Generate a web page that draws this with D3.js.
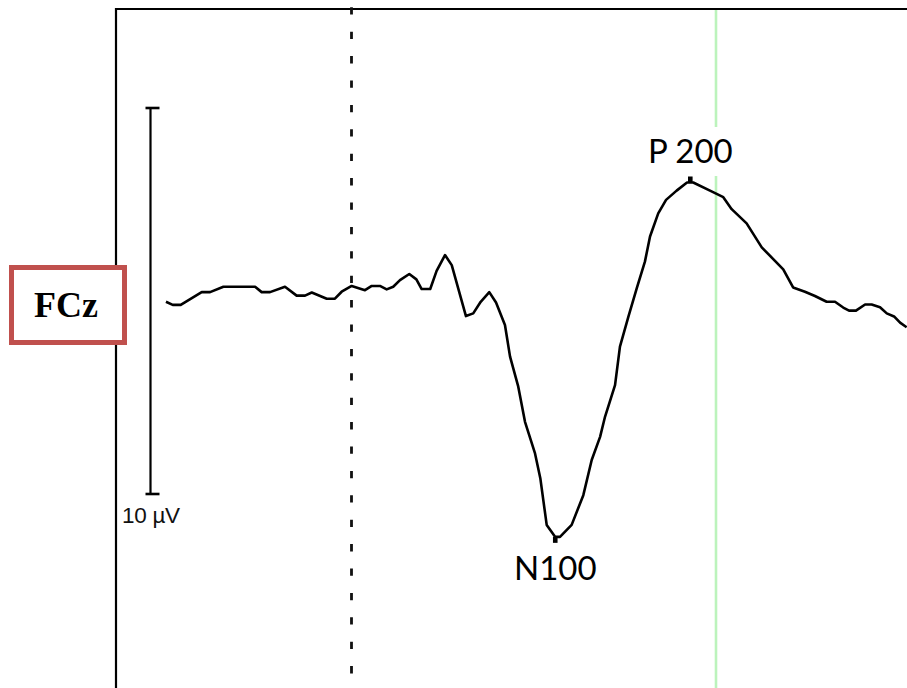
<!DOCTYPE html>
<html>
<head>
<meta charset="utf-8">
<script src="https://cdn.jsdelivr.net/npm/d3@7"></script>
<style>
  html, body { margin: 0; padding: 0; background: #fff; }
  svg { display: block; }
</style>
</head>
<body>
<div id="chart"></div>
<script>
// Grand-average ERP at electrode FCz (time in ms, amplitude in µV, positive up)
const timesMs = [-101.8, -98.1, -93.7, -82.2, -77.6, -70.3, -52.9, -49.3, -44.7, -36.5,
  -30.1, -25.5, -21.8, -13.6, -9.1, -5.4, 0.1, 7.4, 11.1, 15.6,
  19.3, 22.9, 26.6, 31.7, 35.6, 38.5, 43.2, 46.7, 51.3, 55.0,
  62.8, 66.8, 70.9, 75.6, 79.3, 84.2, 87.0, 91.5, 95.2, 100.7,
  103.6, 107.1, 111.7, 114.4, 120.8, 127.2, 131.8, 136.4, 139.1, 144.6,
  147.3, 151.9, 156.5, 161.0, 163.8, 168.3, 172.6, 178.4, 184.1, 187.5,
  196.7, 204.0, 208.6, 216.8, 225.1, 236.9, 242.3, 248.8, 254.3, 260.7,
  265.3, 269.8, 273.0, 276.8, 281.8, 285.4, 290.0, 293.7, 297.7, 301.0, 304.6];

const amplitudeUv = [-0.02, -0.10, -0.10, 0.23, 0.23, 0.37, 0.37, 0.23, 0.23, 0.37,
  0.14, 0.14, 0.22, 0.06, 0.06, 0.24, 0.39, 0.28, 0.39, 0.39,
  0.30, 0.37, 0.54, 0.70, 0.56, 0.31, 0.31, 0.78, 1.19, 0.93,
  -0.39, -0.32, -0.02, 0.23, -0.04, -0.62, -1.44, -2.22, -3.13, -3.95,
  -4.59, -5.80, -6.11, -6.11, -5.80, -5.03, -4.12, -3.52, -3.00, -2.18,
  -1.18, -0.41, 0.33, 1.02, 1.67, 2.27, 2.62, 2.86, 3.07, 3.07,
  2.86, 2.69, 2.38, 2.01, 1.39, 0.82, 0.35, 0.24, 0.13, -0.02,
  -0.02, -0.17, -0.25, -0.25, -0.09, -0.09, -0.16, -0.32, -0.40, -0.56, -0.68];

// Peak components: name, latency (ms), amplitude (µV)
const peakNames = ["N100", "P 200"];
const peakTimes = [111.8, 185.9];
const peakValues = [-6.11, 3.07];

// Reference markers: stimulus onset and 200 ms
const onsetMs = 0;
const refMs = 200;

// Amplitude calibration bar
const calibLow = -5, calibHigh = 5;
const calibLabel = "10 µV";
const channelName = "FCz";

const W = 907, H = 688;
const frame = { left: 116, top: 9 };

const x = d3.scaleLinear().domain([0, 200]).range([351.5, 716]);
const y = d3.scaleLinear().domain([-5, 5]).range([494, 108]);

const svg = d3.select("#chart").append("svg")
  .attr("width", W).attr("height", H)
  .style("background", "#fff");

svg.append("defs").append("clipPath").attr("id", "plotclip")
  .append("rect").attr("x", frame.left).attr("y", frame.top)
  .attr("width", W - frame.left).attr("height", H - frame.top);

// Frame (top and left edges)
svg.append("path")
  .attr("d", `M${frame.left},${H} V${frame.top} H${W + 2}`)
  .attr("fill", "none").attr("stroke", "#000").attr("stroke-width", 2.2);

// 200 ms reference line
svg.append("line")
  .attr("x1", x(refMs)).attr("x2", x(refMs))
  .attr("y1", frame.top + 1).attr("y2", H)
  .attr("stroke", "#bcf3bc").attr("stroke-width", 2.6);

// Stimulus onset, dashed
svg.append("line")
  .attr("x1", x(onsetMs)).attr("x2", x(onsetMs))
  .attr("y1", 7.3).attr("y2", H)
  .attr("stroke", "#111").attr("stroke-width", 2.8)
  .attr("stroke-dasharray", "7.3,17.1");

// Calibration bar
const calX = 150.5;
const cal = svg.append("g").attr("stroke", "#000").attr("stroke-width", 2.2);
cal.append("line").attr("x1", calX).attr("x2", calX)
  .attr("y1", y(calibHigh)).attr("y2", y(calibLow));
cal.append("line").attr("x1", calX - 5).attr("x2", calX + 9)
  .attr("y1", y(calibHigh)).attr("y2", y(calibHigh)).attr("stroke-width", 2.6);
cal.append("line").attr("x1", calX - 5).attr("x2", calX + 9)
  .attr("y1", y(calibLow)).attr("y2", y(calibLow)).attr("stroke-width", 2.6);
svg.append("text")
  .attr("x", 122).attr("y", y(calibLow) + 28.5)
  .attr("font-family", "'Liberation Sans', Arial, sans-serif")
  .attr("font-size", 22.5).attr("letter-spacing", -0.3)
  .attr("fill", "#111")
  .text(calibLabel);

// Waveform
const data = timesMs.map((t, i) => ({ t, v: amplitudeUv[i] }));
svg.append("path")
  .datum(data)
  .attr("clip-path", "url(#plotclip)")
  .attr("fill", "none")
  .attr("stroke", "#000")
  .attr("stroke-width", 2.6)
  .attr("stroke-linejoin", "round")
  .attr("d", d3.line().x(d => x(d.t)).y(d => y(d.v)));

// Peak markers and labels
peakNames.forEach((name, i) => {
  const px = x(peakTimes[i]);
  const py = y(peakValues[i]);
  const up = peakValues[i] > 0;
  svg.append("rect")
    .attr("x", px - 2.3).attr("width", 4.6)
    .attr("y", up ? py - 6 : py).attr("height", 6)
    .attr("fill", "#000");
  const capH = 24, gap = 19.5;
  const baseline = up ? py - gap : py + gap + capH;
  if (up) {
    svg.append("rect")
      .attr("x", px - 48).attr("width", 96)
      .attr("y", baseline - 36).attr("height", 49)
      .attr("fill", "#fff");
  }
  svg.append("text")
    .attr("x", px).attr("y", baseline)
    .attr("text-anchor", "middle")
    .attr("font-family", "Lato, 'Open Sans', sans-serif")
    .attr("font-size", 33)
    .attr("fill", "#000")
    .text(name);
});

// Channel label box
svg.append("rect")
  .attr("x", 11.5).attr("y", 267.5).attr("width", 113).attr("height", 75)
  .attr("fill", "#fff").attr("stroke", "#c0504d").attr("stroke-width", 5);
svg.append("text")
  .attr("x", 66).attr("y", 317)
  .attr("text-anchor", "middle")
  .attr("font-family", "'Liberation Serif', 'DejaVu Serif', serif")
  .attr("font-weight", "bold")
  .attr("font-size", 36)
  .attr("fill", "#000")
  .text(channelName);
</script>
</body>
</html>
